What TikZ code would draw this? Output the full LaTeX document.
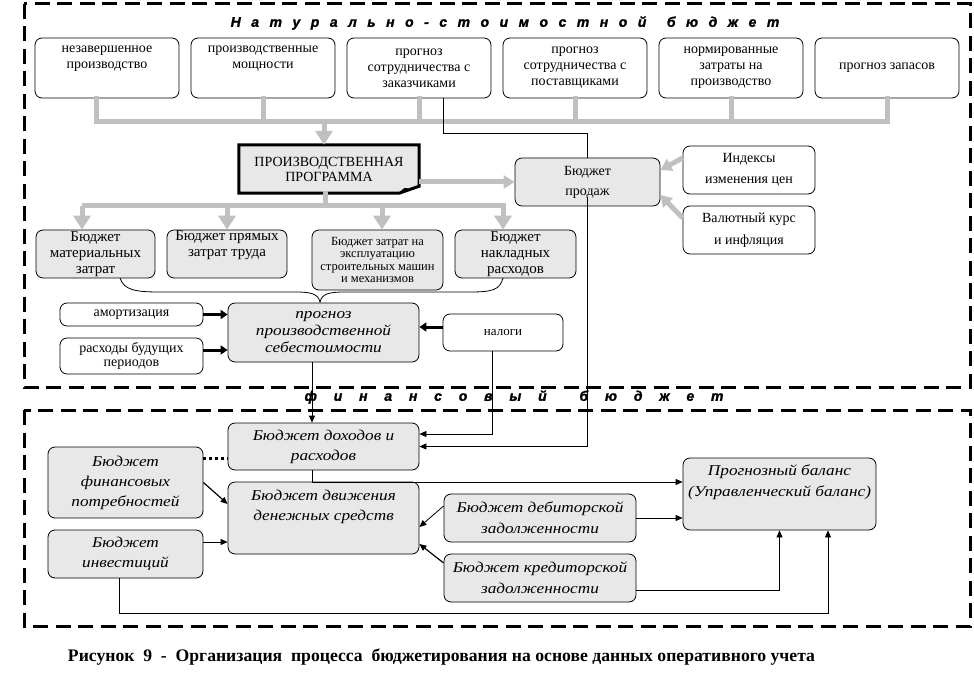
\documentclass[tikz,border=0pt]{standalone}
\usepackage{fontspec}
\setmainfont{Liberation Serif}
\newfontfamily\hdfont{Liberation Sans}[BoldItalicFeatures={FakeBold=1.5}]
\newfontfamily\itfont{Liberation Serif}[FakeStretch=1.15]
\usetikzlibrary{arrows.meta}
\definecolor{boxgray}{RGB}{232,232,232}
\definecolor{bargray}{RGB}{192,192,192}
\newcommand{\fsz}[2]{\fontsize{#1}{#2}\selectfont}
\begin{document}
\begin{tikzpicture}[x=1pt,y=-1pt,
  box/.style={draw, rounded corners=7pt, line width=0.8pt, align=center, inner sep=0pt, fill=white},
  wbox/.style={box, font=\fsz{14}{16}},
  gbox/.style={box, fill=boxgray, font=\fsz{15}{16}},
  ibox/.style={box, fill=boxgray, font=\itfont\itshape\fsz{15}{20}},
  gbar/.style={draw=bargray, line width=5pt, line cap=rect},
  garrow/.style={draw=bargray, line width=5pt, -{Triangle[width=17pt,length=14pt]}},
  sarrow/.style={draw=bargray, line width=5pt, -{Triangle[width=13pt,length=11pt]}},
  tarrow/.style={draw, line width=0.8pt, -{Triangle[width=6pt,length=7pt]}},
  bigarrow/.style={draw, line width=3pt, -{Triangle[width=9pt,length=7pt]}},
  frame/.style={draw, line width=3pt, dash pattern=on 15pt off 7.5pt},
  ttl/.style={font=\hdfont\bfseries\itshape\fsz{14}{16}},
]
\useasboundingbox (0,0) rectangle (974,676);

% frames
\draw[frame] (24,4) rectangle (970,387);
\draw[frame] (24,410) rectangle (970,626);

% titles
\node[ttl] (title1) at (505,23) {\spaceskip=10.5pt Н а т у р а л ь н о - с т о и м о с т н о й\hspace{10pt} б ю д ж е т};
\node[ttl] (title2) at (514,397) {\spaceskip=16.8pt ф и н а н с о в ы й\hspace{16pt} б ю д ж е т};

% top boxes
\node[wbox, minimum width=144pt, minimum height=60pt] (t1) at (107,68) {незавершенное\\производство\\\strut};
\node[wbox, minimum width=144pt, minimum height=60pt] (t2) at (263,68) {производственные\\мощности\\\strut};
\node[wbox, minimum width=144pt, minimum height=60pt] (t3) at (419,68) {прогноз\\сотрудничества с\\заказчиками};
\node[wbox, minimum width=144pt, minimum height=60pt] (t4) at (575,68) {прогноз\\сотрудничества с\\поставщиками};
\node[wbox, minimum width=144pt, minimum height=60pt] (t5) at (731,68) {нормированные\\затраты на\\производство};
\node[wbox, minimum width=144pt, minimum height=60pt] (t6) at (887,68) {прогноз запасов};

% upper gray bus
\coordinate (busL) at (96,122);
\coordinate (busR) at (887,122);
\draw[gbar] (t1.south -| busL) -- (busL) -- (busR) -- (t6.south);
\foreach \n in {t2,t3,t4,t5} \draw[gbar] (\n.south) -- (\n.south |- busL);

% production programme
\node[minimum width=180pt, minimum height=48pt, inner sep=0pt, fill=boxgray, align=center, font=\fsz{14}{15}] (pp) at (329,169) {ПРОИЗВОДСТВЕННАЯ\\ПРОГРАММА};
\fill[white] ([yshift=7pt]pp.south east) -- (pp.south east) -- ([xshift=-20pt]pp.south east) -- cycle;
\draw[line width=3pt, line join=miter] (pp.north west) -- (pp.north east) -- ([yshift=7pt]pp.south east) -- ([xshift=-20pt]pp.south east) -- (pp.south west) -- cycle;
\fill ([xshift=-20pt]pp.south east) .. controls ([xshift=-15pt,yshift=6pt]pp.south east) .. ([xshift=-9pt,yshift=4pt]pp.south east) -- ([yshift=7pt]pp.south east) -- cycle;

\coordinate (ppin) at (324,122);
\draw[garrow] (ppin) -- (ppin |- pp.north);

% sales budget and influences
\node[box, fill=boxgray, font=\fsz{14}{20}, minimum width=145pt, minimum height=48pt] (sales) at (587.5,182) {Бюджет\\продаж};
\node[box, font=\fsz{14}{21}, minimum width=132pt, minimum height=48pt] (idx) at (749,170) {Индексы\\изменения цен};
\node[box, font=\fsz{14}{22}, minimum width=132pt, minimum height=48pt] (val) at (749,230) {Валютный курс\\и инфляция};

\coordinate (ppo) at ([yshift=-13pt]pp.east);
\draw[sarrow] (ppo) -- (ppo -| sales.west);
\draw[sarrow] ([yshift=12pt]idx.west) -- ([yshift=12pt]sales.east);
\draw[sarrow] ([yshift=12pt]val.west) -- ([yshift=-13pt]sales.east);

\coordinate (k1) at (443,133);
\draw[line width=0.8pt] (t3.south -| k1) -- (k1) -- (k1 -| sales.north) -- (sales.north);

% second row budgets
\node[gbox, minimum width=119pt, minimum height=48pt] (b1) at (95.5,254) {Бюджет\\материальных\\затрат};
\node[gbox, minimum width=120pt, minimum height=48pt] (b2) at (227,254) {Бюджет прямых\\затрат труда\\\strut};
\node[gbox, minimum width=121pt, minimum height=48pt] (b4) at (515.5,254) {Бюджет\\накладных\\расходов};

% brace
\draw[line width=0.8pt] (120,278) .. controls (124,290) and (135,292) .. (160,292) -- (295,292) .. controls (312,292) and (318,294) .. (320,302) .. controls (322,294) and (328,292) .. (345,292) -- (470,292) .. controls (492,292) and (500,290) .. (503,278);

\node[gbox, font=\fsz{12.5}{12.5}, minimum width=131pt, minimum height=60pt] (b3) at (377.5,260) {Бюджет затрат на\\эксплуатацию\\строительных машин\\и механизмов};

% distribution bus
\coordinate (dL) at (82,206);
\coordinate (dR) at (503,206);
\coordinate (dM) at (325,206);
\coordinate (d3) at (382,206);
\draw[gbar] (dM |- pp.south) -- (dM);
\draw[garrow] (dL) -- (dR) -- (dR |- b4.north);
\draw[garrow] (dL) -- (dL |- b1.north);
\draw[garrow] (b2.north |- dL) -- (b2.north);
\draw[garrow] (d3) -- (d3 |- b3.north);

% cost forecast
\node[ibox, font=\itfont\itshape\fsz{15}{17}, minimum width=191pt, minimum height=59pt] (sebes) at (323.5,332.5) {прогноз\\производственной\\себестоимости};
\node[box, font=\fsz{14}{14}, minimum width=143pt, minimum height=23pt] (amort) at (131.5,314.5) {амортизация};
\node[box, font=\fsz{14}{14}, minimum width=143pt, minimum height=36pt] (rbp) at (131.5,356) {расходы будущих\\периодов};
\node[box, font=\fsz{13}{14}, minimum width=120pt, minimum height=37pt] (nal) at (503,332.5) {налоги};

\draw[bigarrow] (amort.east) -- (amort.east -| sebes.west);
\coordinate (r2) at ([yshift=6pt]rbp.east);
\draw[bigarrow] (r2) -- (r2 -| sebes.west);
\coordinate (n2) at ([yshift=5.5pt]nal.west);
\draw[bigarrow] (n2) -- (n2 -| sebes.east);

% financial budget
\node[ibox, minimum width=191pt, minimum height=47pt] (bdr) at (323.5,446.5) {Бюджет доходов и\\расходов};
\node[ibox, minimum width=191pt, minimum height=72pt] (bdds) at (323.5,518) {Бюджет движения\\денежных средств\\\strut};
\node[ibox, minimum width=155pt, minimum height=71pt] (bfp) at (125.5,482.5) {Бюджет\\финансовых\\потребностей};
\node[ibox, minimum width=155pt, minimum height=48pt] (binv) at (125.5,554) {Бюджет\\инвестиций};
\node[ibox, font=\itfont\itshape\fsz{15}{21}, minimum width=192pt, minimum height=48pt] (deb) at (540,518) {Бюджет дебиторской\\задолженности};
\node[ibox, font=\itfont\itshape\fsz{15}{21}, minimum width=192pt, minimum height=48pt] (kred) at (540,578) {Бюджет кредиторской\\задолженности};
\node[ibox, font=\itfont\itshape\fsz{15}{21}, minimum width=193pt, minimum height=72pt] (bal) at (779.5,494) {Прогнозный баланс\\(Управленческий баланс)\\\strut};

% connectors in financial part
\coordinate (s1) at ([xshift=-11.5pt]sebes.south);
\draw[tarrow] (s1) -- (s1 |- bdr.north);
\draw[tarrow] ([xshift=-11pt]nal.south) |- ([yshift=12.5pt]bdr.east);
\draw[tarrow] ([yshift=-15pt]sales.center) |- (bdr.east);

\coordinate (f1) at ([yshift=24.5pt]bfp.east);
\draw[line width=3pt, dash pattern=on 3pt off 3pt] (f1) -- (f1 -| bdr.west);
\draw[tarrow, line width=1.2pt] (bfp.east) -- ([yshift=14pt]bdds.west);
\coordinate (i1) at ([yshift=12pt]binv.east);
\draw[tarrow] (i1) -- (i1 -| bdds.west);
\draw[tarrow] ([yshift=12pt]deb.west) -- ([yshift=-9pt]bdds.east);
\draw[tarrow, line width=1.2pt] ([yshift=15pt]kred.west) -- ([yshift=-26pt]bdds.east);

\coordinate (r1) at ([xshift=-11.5pt]bdr.south);
\draw[tarrow] (r1) |- ([yshift=12pt]bal.west);
\draw[tarrow] (deb.east) -- (deb.east -| bal.west);
\draw[tarrow] ([yshift=-12pt]kred.east) -| (bal.south);
\draw[tarrow] ([xshift=-6.5pt]binv.south) -- ++(0,35) -| ([xshift=48.5pt]bal.south);

% caption
\node[font=\bfseries\fsz{16}{18}] (cap) at (441.5,657) {\resizebox{747pt}{!}{Рисунок\ \ 9\ \ -\ \ Организация\ \ процесса\ \ бюджетирования на основе данных оперативного учета}};
\end{tikzpicture}
\end{document}
